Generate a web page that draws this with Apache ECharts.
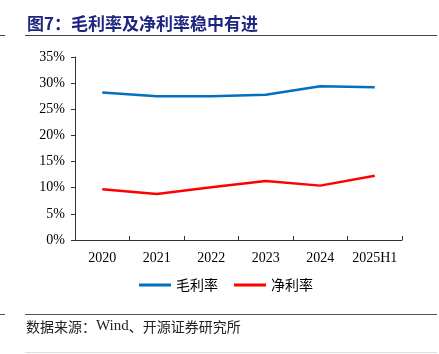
<!DOCTYPE html>
<html>
<head>
<meta charset="utf-8">
<script src="https://cdn.jsdelivr.net/npm/echarts@6/dist/echarts.min.js"></script>
<style>
  html, body { margin: 0; padding: 0; background: #fff; }
  #chart { width: 439px; height: 354px; }
</style>
</head>
<body>
<div id="chart"></div>
<script>
// 数据
const years = ['2020', '2021', '2022', '2023', '2024', '2025H1'];
const grossMargin = [28.2, 27.5, 27.5, 27.8, 29.4, 29.2];
const netMargin = [9.7, 8.8, 10.1, 11.3, 10.4, 12.3];

const serif = '"Liberation Serif", "Times New Roman", serif';
const cjk = '"Noto Sans CJK SC", sans-serif';

const myChart = echarts.init(document.getElementById('chart'));

const option = {
  animation: false,
  grid: { left: 75, right: 37, top: 57, bottom: 114 },
  legend: {
    data: ['毛利率', '净利率'],
    bottom: 57,
    left: 134,
    itemWidth: 32,
    itemHeight: 3,
    itemGap: 16,
    icon: 'rect',
    textStyle: { fontFamily: cjk, fontSize: 14, color: '#000' }
  },
  xAxis: {
    type: 'category',
    data: years,
    boundaryGap: true,
    axisLine: { lineStyle: { color: '#333', width: 1 } },
    axisTick: { show: true, inside: true, length: 4, lineStyle: { color: '#333' } },
    axisLabel: { interval: 0, fontFamily: serif, fontSize: 14, color: '#000', margin: 11 }
  },
  yAxis: {
    type: 'value',
    min: 0,
    max: 35,
    interval: 5,
    splitLine: { show: false },
    axisLine: { show: true, lineStyle: { color: '#333', width: 1 } },
    axisTick: { show: true, length: 4, lineStyle: { color: '#333' } },
    axisLabel: { fontFamily: serif, fontSize: 14, color: '#000', margin: 10, formatter: '{value}%' }
  },
  series: [
    {
      name: '毛利率',
      type: 'line',
      data: grossMargin,
      symbol: 'none',
      lineStyle: { color: '#0070c0', width: 2.5 },
      itemStyle: { color: '#0070c0' }
    },
    {
      name: '净利率',
      type: 'line',
      data: netMargin,
      symbol: 'none',
      lineStyle: { color: '#ff0000', width: 2.5 },
      itemStyle: { color: '#ff0000' }
    }
  ],
  graphic: [
    {
      type: 'text', left: 27, top: 15,
      style: { text: '图7：毛利率及净利率稳中有进', font: 'bold 17px ' + cjk, fill: '#1f2580' }
    },
    { type: 'rect', shape: { x: 25, y: 35, width: 412, height: 1 }, style: { fill: '#444' } },
    { type: 'rect', shape: { x: 0, y: 35, width: 5, height: 1 }, style: { fill: '#444' } },
    { type: 'rect', shape: { x: 25, y: 314, width: 412, height: 1 }, style: { fill: '#555' } },
    { type: 'rect', shape: { x: 0, y: 314, width: 5, height: 1 }, style: { fill: '#555' } },
    {
      type: 'text', left: 26, top: 319,
      style: {
        rich: {
          c: { fontFamily: cjk, fontSize: 14, fill: '#222' },
          e: { fontFamily: serif, fontSize: 15, fill: '#222' }
        },
        text: '{c|数据来源：}{e|Wind}{c|、开源证券研究所}'
      }
    },
    { type: 'rect', shape: { x: 25, y: 352, width: 412, height: 1 }, style: { fill: '#ddd' } }
  ]
};

myChart.setOption(option);
window.addEventListener('resize', () => myChart.resize());
</script>
</body>
</html>
